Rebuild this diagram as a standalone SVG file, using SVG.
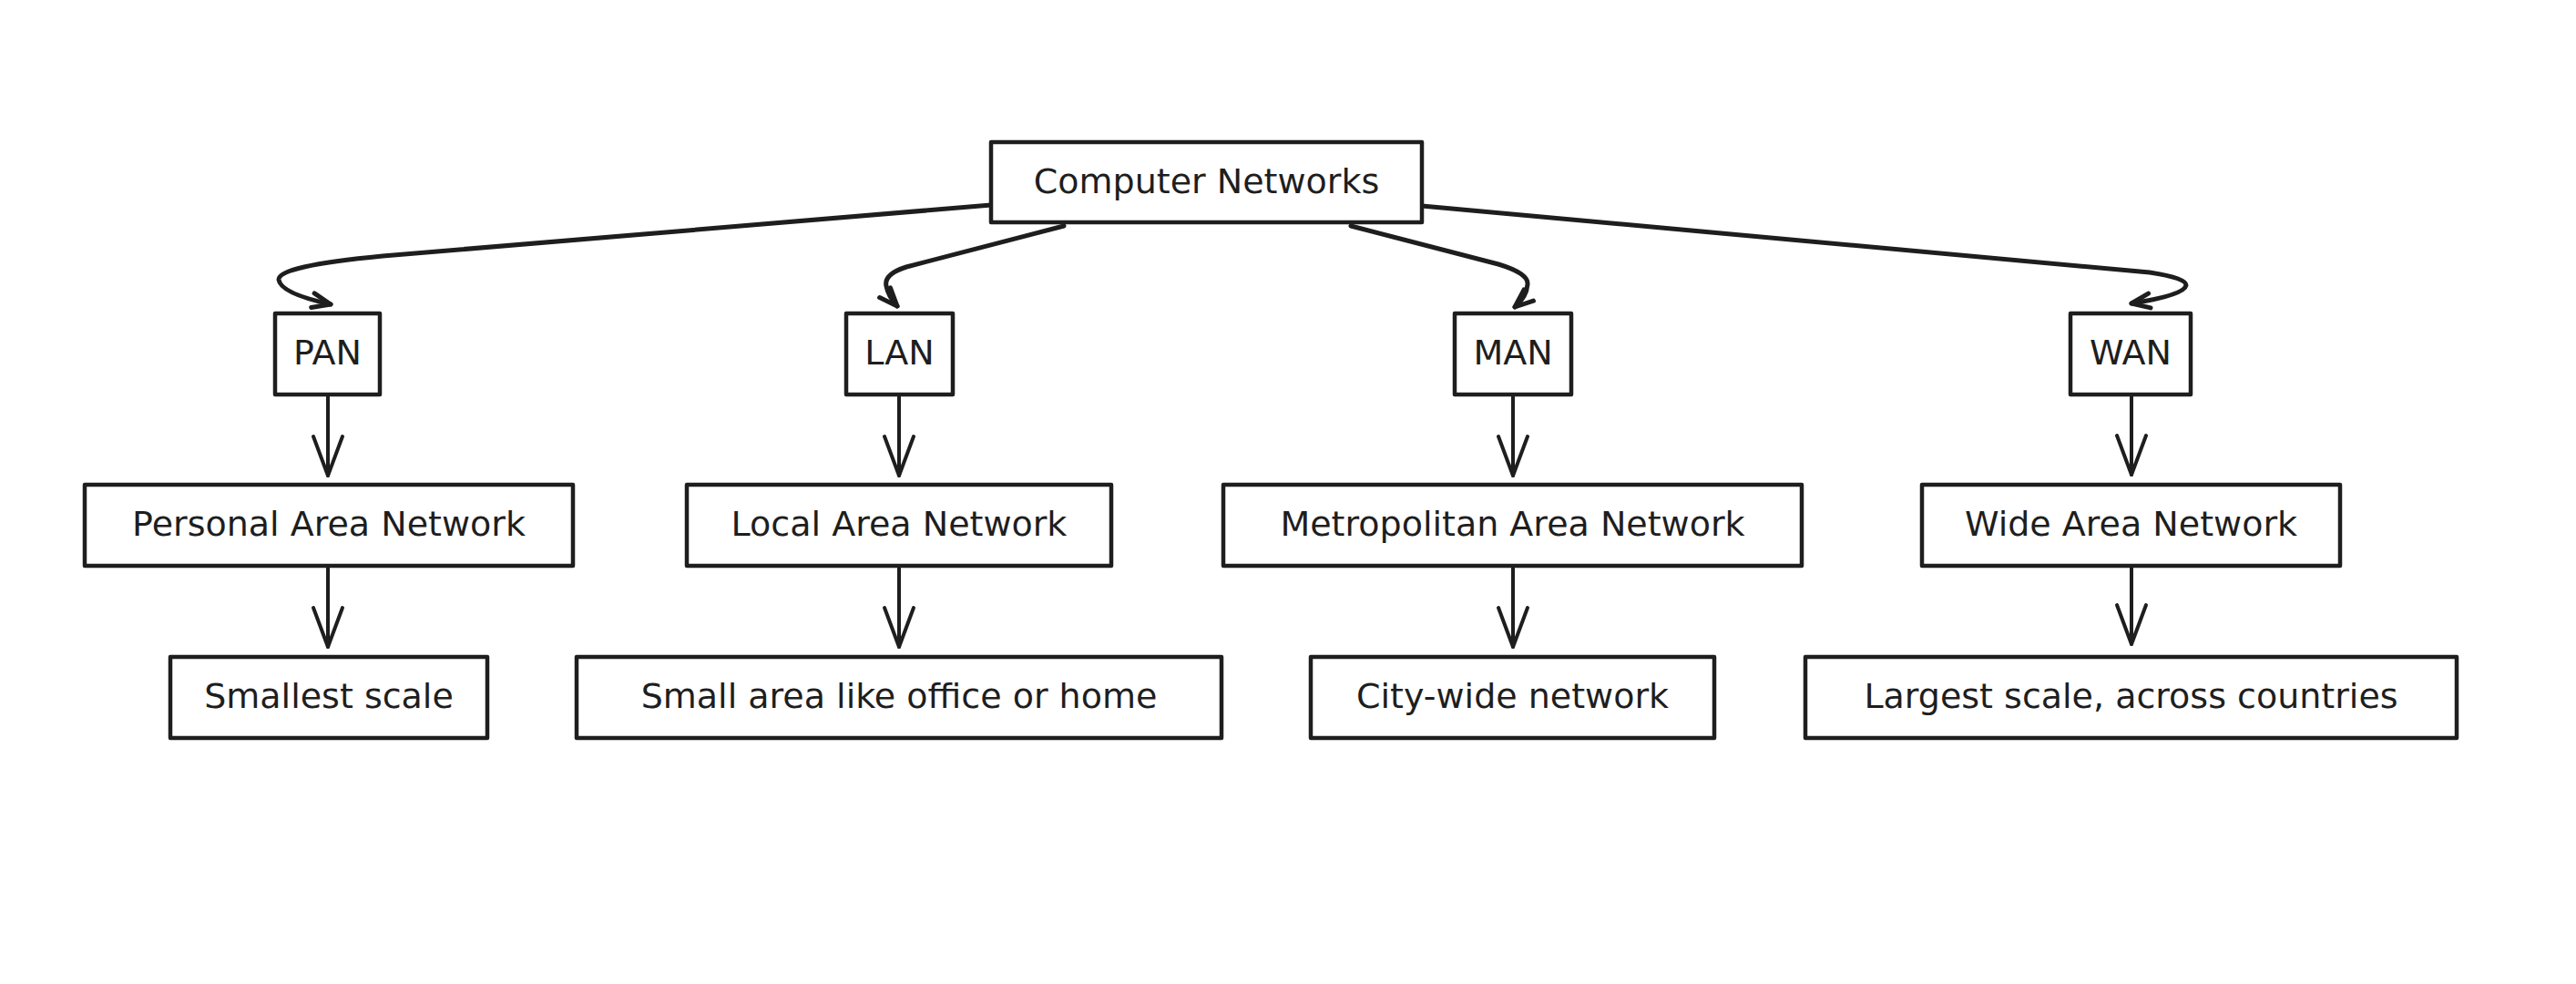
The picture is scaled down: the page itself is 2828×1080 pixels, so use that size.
<svg xmlns="http://www.w3.org/2000/svg" width="2828" height="1080" viewBox="0 0 2828 1080">
<style>
.box{fill:#ffffff;stroke:#1e1e1e;stroke-width:4.5;stroke-linejoin:round}
.lbl{font-family:"DejaVu Sans","Liberation Sans",sans-serif;font-size:38px;fill:#1e1e1e;text-anchor:middle}
.curve{fill:none;stroke:#1e1e1e;stroke-width:5;stroke-linecap:round;stroke-linejoin:round}
.down{fill:none;stroke:#1e1e1e;stroke-width:4;stroke-linecap:round}
</style>
<defs>
<marker id="ahs" viewBox="-30 -15 35 30" refX="0" refY="0" markerWidth="35" markerHeight="30" markerUnits="userSpaceOnUse" orient="auto">
<path d="M-20,-8 L0,0 L-20,8" fill="none" stroke="#1e1e1e" stroke-width="5" stroke-linecap="round" stroke-linejoin="round"/>
</marker>
<marker id="ahl" viewBox="-50 -20 55 40" refX="0" refY="0" markerWidth="55" markerHeight="40" markerUnits="userSpaceOnUse" orient="auto">
<path d="M-43,-16 L0,0 L-43,16" fill="none" stroke="#1e1e1e" stroke-width="4" stroke-linecap="round" stroke-linejoin="round"/>
</marker>
</defs>
<rect width="2828" height="1080" fill="#ffffff"/>
<g id="connectors">
<path class="curve" marker-end="url(#ahs)" d="M1088,225 L420,281 Q305,292 306,307 Q308,322 363,334"/>
<path class="curve" marker-end="url(#ahs)" d="M1168,248 L995,293 Q970,301 973,314 Q975,325 985,336"/>
<path class="curve" marker-end="url(#ahs)" d="M1483,248 L1645,290 Q1678,300 1677,312 Q1676,326 1663,337"/>
<path class="curve" marker-end="url(#ahs)" d="M1561,226 L2360,299 Q2400,305 2400,313 Q2398,324 2340,333"/>
<path class="down" marker-end="url(#ahl)" d="M360,433 L360,522"/>
<path class="down" marker-end="url(#ahl)" d="M987,433 L987,522"/>
<path class="down" marker-end="url(#ahl)" d="M1661,433 L1661,522"/>
<path class="down" marker-end="url(#ahl)" d="M2340,433 L2340,521"/>
<path class="down" marker-end="url(#ahl)" d="M360,621 L360,710"/>
<path class="down" marker-end="url(#ahl)" d="M987,621 L987,710"/>
<path class="down" marker-end="url(#ahl)" d="M1661,621 L1661,710"/>
<path class="down" marker-end="url(#ahl)" d="M2340,621 L2340,707"/>
</g>
<g id="computer-networks"><rect class="box" x="1088" y="156" width="473" height="88"/><text class="lbl" x="1324.5" y="212">Computer Networks</text></g>
<g id="pan"><rect class="box" x="302" y="344" width="115" height="89"/><text class="lbl" x="359.5" y="400">PAN</text></g>
<g id="lan"><rect class="box" x="929" y="344" width="117" height="89"/><text class="lbl" x="987.5" y="400">LAN</text></g>
<g id="man"><rect class="box" x="1597" y="344" width="128" height="89"/><text class="lbl" x="1661" y="400">MAN</text></g>
<g id="wan"><rect class="box" x="2273" y="344" width="132" height="89"/><text class="lbl" x="2339" y="400">WAN</text></g>
<g id="personal"><rect class="box" x="93" y="532" width="536" height="89"/><text class="lbl" x="361" y="588">Personal Area Network</text></g>
<g id="local"><rect class="box" x="754" y="532" width="466" height="89"/><text class="lbl" x="987" y="588">Local Area Network</text></g>
<g id="metro"><rect class="box" x="1343" y="532" width="635" height="89"/><text class="lbl" x="1660.5" y="588">Metropolitan Area Network</text></g>
<g id="wide"><rect class="box" x="2110" y="532" width="459" height="89"/><text class="lbl" x="2339.5" y="588">Wide Area Network</text></g>
<g id="smallest"><rect class="box" x="187" y="721" width="348" height="89"/><text class="lbl" x="361" y="777">Smallest scale</text></g>
<g id="small-area"><rect class="box" x="633" y="721" width="708" height="89"/><text class="lbl" x="987" y="777">Small area like office or home</text></g>
<g id="city"><rect class="box" x="1439" y="721" width="443" height="89"/><text class="lbl" x="1660.5" y="777">City-wide network</text></g>
<g id="largest"><rect class="box" x="1982" y="721" width="715" height="89"/><text class="lbl" x="2339.5" y="777">Largest scale, across countries</text></g>
</svg>
